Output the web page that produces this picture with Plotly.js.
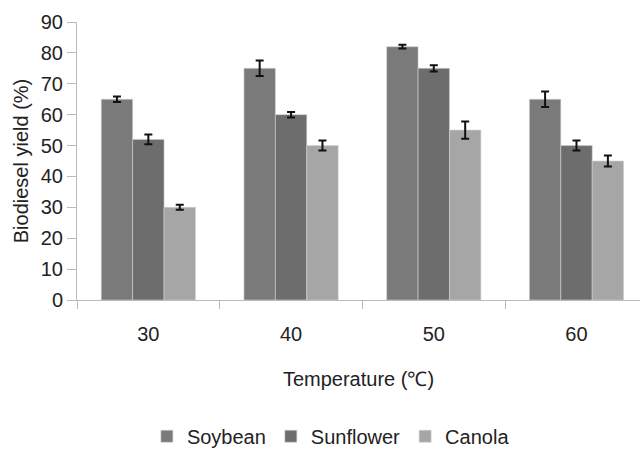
<!DOCTYPE html>
<html>
<head>
<meta charset="utf-8">
<script src="https://cdn.plot.ly/plotly-3.0.1.min.js"></script>
<style>html,body{margin:0;padding:0;background:#fff;}#chart{width:640px;height:450px;}</style>
</head>
<body>
<div id="chart"></div>
<script>
const temperatures = ["30", "40", "50", "60"];
const soybean = [65, 75, 82, 65];
const soybeanErr = [0.9, 2.5, 0.6, 2.5];
const sunflower = [52, 60, 75, 50];
const sunflowerErr = [1.6, 0.9, 1.0, 1.6];
const canola = [30, 50, 55, 45];
const canolaErr = [0.8, 1.6, 2.8, 1.8];
const seriesNames = ["Soybean", "Sunflower", "Canola"];
const yTicks = [0, 10, 20, 30, 40, 50, 60, 70, 80, 90];

function series(name, y, err, color) {
  return {
    type: "bar", name: name, x: temperatures, y: y,
    marker: {color: color, line: {color: "#d0d0d0", width: 0.6}},
    error_y: {type: "data", array: err, visible: true, color: "#111", thickness: 2, width: 4}
  };
}

const data = [
  series(seriesNames[0], soybean, soybeanErr, "#7a7a7a"),
  series(seriesNames[1], sunflower, sunflowerErr, "#6d6d6d"),
  series(seriesNames[2], canola, canolaErr, "#a6a6a6")
];

const font = {family: "Liberation Sans, Arial, sans-serif", size: 20, color: "#222"};

const layout = {
  width: 640, height: 450,
  margin: {l: 77, r: 0, t: 22, b: 150, autoexpand: false},
  paper_bgcolor: "#fff", plot_bgcolor: "#fff",
  font: font,
  barmode: "group", bargap: 0.34, bargroupgap: 0,
  showlegend: true,
  legend: {orientation: "h", x: 0.517, xanchor: "center", xref: "container",
           y: -0.49, yanchor: "middle", yref: "paper",
           font: font, itemwidth: 30, tracegroupgap: 0},
  xaxis: {
    type: "category", range: [-0.5, 3.445], tickson: "boundaries",
    ticks: "outside", ticklen: 8, tickcolor: "#bbb", tickwidth: 1,
    showline: true, linecolor: "#bbb", linewidth: 1,
    showgrid: false, zeroline: false, ticklabelstandoff: 16,
    title: {text: "Temperature (℃)", font: font, standoff: 27}
  },
  yaxis: {
    range: [0, 90], tickvals: yTicks, ticktext: yTicks.map(String),
    ticks: "outside", ticklen: 9, tickcolor: "#bbb", tickwidth: 1,
    showline: true, linecolor: "#bbb", linewidth: 1,
    showgrid: false, zeroline: false,
    title: {text: "Biodiesel yield (%)", font: font, standoff: 6}
  }
};

Plotly.newPlot("chart", data, layout, {displayModeBar: false, staticPlot: true});
</script>
</body>
</html>
